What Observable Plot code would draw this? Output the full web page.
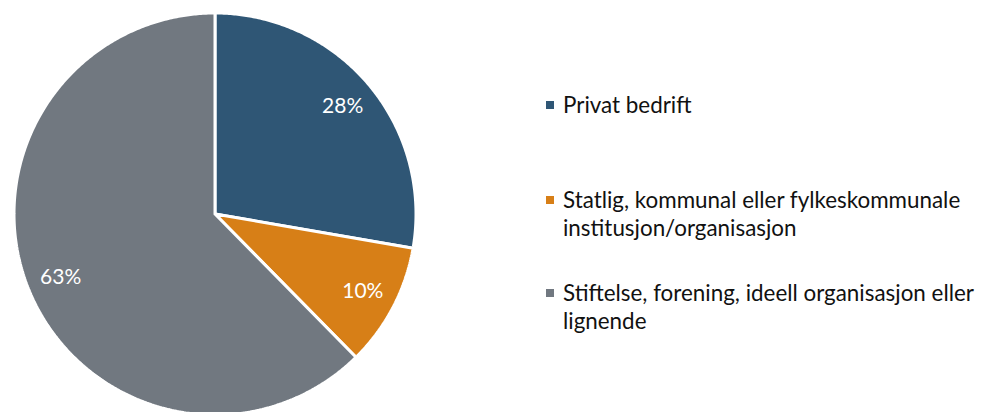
<!DOCTYPE html>
<html><head><meta charset="utf-8">
<script src="https://cdn.jsdelivr.net/npm/d3@7"></script>
<script src="https://cdn.jsdelivr.net/npm/@observablehq/plot@0.6"></script>
<style>
html,body{margin:0;padding:0;background:#fff;overflow:hidden;}
#wrap{position:relative;width:981px;height:412px;overflow:hidden;font-family:Lato, "Open Sans", sans-serif;}
#chart{position:absolute;left:0;top:0;}
.item{position:absolute;left:546px;display:flex;align-items:flex-start;width:435px;font-size:22.4px;line-height:28px;color:#111;}
.sw{width:8px;height:8px;margin-top:10px;margin-right:9px;flex:none;}
</style></head><body><div id="wrap"><div id="chart"></div></div>
<script>
const categories = ["Privat bedrift", "Statlig, kommunal eller fylkeskommunale institusjon/organisasjon", "Stiftelse, forening, ideell organisasjon eller lignende"];
const values = [28, 10, 63];
const valueLabels = ["28%", "10%", "63%"];
const colors = ["#2f5675", "#d77f17", "#717880"];

const total = d3.sum(values);
const slices = [];
const labelPts = [];
let acc = 0;
values.forEach((v, i) => {
  const a0 = acc / total * 2 * Math.PI;
  acc += v;
  const a1 = acc / total * 2 * Math.PI;
  const n = Math.max(2, Math.ceil((a1 - a0) / (Math.PI / 360)));
  slices.push({name: categories[i], x: 0, y: 0});
  for (let k = 0; k <= n; k++) {
    const a = a0 + (a1 - a0) * k / n;
    slices.push({name: categories[i], x: Math.sin(a), y: Math.cos(a)});
  }
  slices.push({name: categories[i], x: 0, y: 0});
  const am = (a0 + a1) / 2;
  labelPts.push({x: 0.83 * Math.sin(am), y: 0.83 * Math.cos(am), text: valueLabels[i]});
});

const cx = 214.5, cy = 213.5, r = 201;
const plot = Plot.plot({
  width: 530, height: 412,
  margin: 0,
  style: {fontFamily: "Lato, sans-serif", background: "transparent", overflow: "hidden"},
  x: {domain: [-1, 1], range: [cx - r, cx + r], axis: null},
  y: {domain: [-1, 1], range: [cy + r, cy - r], axis: null},
  color: {domain: categories, range: colors},
  marks: [
    Plot.line(slices, {x: "x", y: "y", z: "name", fill: "name", stroke: "white", strokeWidth: 3, strokeLinejoin: "miter", curve: "linear"}),
    Plot.text(labelPts, {x: "x", y: "y", text: "text", fill: "white", fontSize: 21, fontFamily: "Lato, sans-serif"})
  ]
});
document.getElementById("chart").appendChild(plot);

const tops = [91, 186, 279];
const wrap = document.getElementById("wrap");
categories.forEach((c, i) => {
  const it = document.createElement("div");
  it.className = "item";
  it.style.top = tops[i] + "px";
  const sw = document.createElement("div");
  sw.className = "sw";
  sw.style.background = colors[i];
  const t = document.createElement("div");
  t.textContent = c;
  it.appendChild(sw); it.appendChild(t);
  wrap.appendChild(it);
});
</script>
</body></html>
